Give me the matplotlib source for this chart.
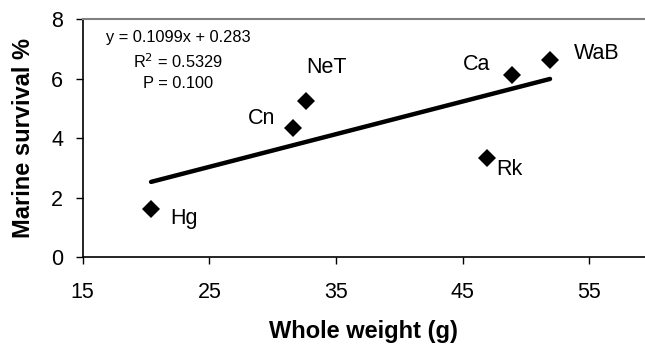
import matplotlib
matplotlib.use("Agg")
import matplotlib.pyplot as plt
import numpy as np

plt.rcParams['font.family'] = ['Liberation Sans', 'DejaVu Sans']

# site data
sites = ['Hg', 'Cn', 'NeT', 'Ca', 'WaB', 'Rk']
weight = [20.4, 31.6, 32.6, 48.9, 51.9, 46.9]
survival = [1.61, 4.33, 5.23, 6.12, 6.63, 3.34]

# linear fit shown on the chart
slope = 0.1099
intercept = 0.283
eq_lines = ['y = 0.1099x + 0.283', 'R$^2$ = 0.5329', 'P = 0.100']

# label offsets (pixels) and alignment per site
offsets = {'Hg': (19, -9, 'left'), 'Cn': (-18, 10, 'right'),
           'NeT': (1, 34, 'left'), 'Ca': (-22, 10, 'right'),
           'WaB': (24, 6, 'left'), 'Rk': (10, -12, 'left')}

fig = plt.figure(figsize=(6.45, 3.53), dpi=100)
ax = fig.add_axes([0.1282, 0.272, 0.8718, 0.674])

ax.plot(weight, survival, linestyle='none', marker='D', markersize=8.8,
        color='black', markeredgewidth=0, zorder=3)

xfit = np.array([min(weight), max(weight)])
ax.plot(xfit, slope * xfit + intercept, color='black', linewidth=3.2,
        solid_capstyle='round', zorder=2)

for name, x, y in zip(sites, weight, survival):
    dx, dy, ha = offsets[name]
    ax.annotate(name, (x, y), xytext=(dx, dy), textcoords='offset pixels',
                ha=ha, va='center', fontsize=15.5)

for txt, yy in zip(eq_lines, [0.924, 0.819, 0.731]):
    ax.text(0.170, yy, txt, transform=ax.transAxes, ha='center',
            va='center', fontsize=11.8)

ax.set_xlim(15, 59.4)
ax.set_ylim(0, 8)
ax.set_xticks([15, 25, 35, 45, 55])
ax.set_yticks([0, 2, 4, 6, 8])
ax.tick_params(axis='both', direction='out', length=5, width=1,
               labelsize=15.5)
ax.tick_params(axis='x', pad=13)
ax.tick_params(axis='y', pad=9)

ax.spines['right'].set_visible(False)
ax.spines['top'].set_color('#808080')
ax.spines['top'].set_linewidth(1.5)
ax.spines['left'].set_linewidth(1.2)
ax.spines['bottom'].set_linewidth(1.2)

ax.set_xlabel('Whole weight (g)', fontsize=17, fontweight='bold')
ax.set_ylabel('Marine survival %', fontsize=17, fontweight='bold')
ax.xaxis.label.set_va('center')
ax.yaxis.label.set_va('center')
ax.xaxis.set_label_coords(0.5, -0.315)
ax.yaxis.set_label_coords(-0.1044, 0.5)

fig.savefig('out.png', dpi=100)
